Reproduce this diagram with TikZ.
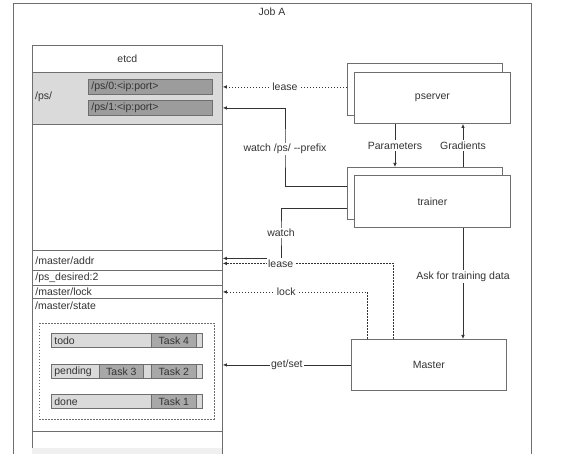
\documentclass[tikz,border=0pt]{standalone}
\usepackage{fontspec}
\setmainfont{Liberation Sans}
\usetikzlibrary{calc,arrows.meta}
\definecolor{frame}{HTML}{6E6E6E}
\definecolor{ink}{HTML}{333333}
\definecolor{keyfill}{HTML}{DADADA}
\definecolor{valfill}{HTML}{9C9C9C}
\definecolor{taskfill}{HTML}{A8A8A8}
\tikzset{
  row/.style={draw=frame, fill=white, line width=0.8pt, anchor=north west, minimum width=190pt, text width=184pt, inner xsep=3pt, inner ysep=0pt, align=left},
  entry/.style={draw=frame, fill=valfill, line width=0.8pt, anchor=north west, minimum width=124pt, minimum height=15pt, text width=118pt, inner xsep=3pt, inner ysep=0pt, align=left},
  bar/.style={draw=frame, fill=keyfill, line width=0.8pt, anchor=north west, minimum width=151pt, minimum height=14pt, text width=145pt, inner xsep=3pt, inner ysep=0pt, align=left},
  taskbox/.style={draw=frame, fill=taskfill, line width=0.8pt, anchor=north west, minimum width=45pt, minimum height=14pt, inner sep=0pt},
  box/.style={draw=frame, fill=white, line width=0.9pt, anchor=north west, minimum width=155pt, minimum height=52pt, inner sep=0pt},
  lbl/.style={fill=white, inner sep=1.5pt},
  arr/.style={draw=ink, line width=0.7pt, -{Latex[length=4pt,width=3.5pt]}},
  dots/.style={draw=frame, dash pattern=on 1.5pt off 1.5pt}
}
\begin{document}
\begin{tikzpicture}[x=1pt, y=-1pt, font=\fontsize{10.5}{12}\selectfont, text=ink]
  %%%%% FRAME %%%%%
  \useasboundingbox (0,0) rectangle (566,454);
  \draw[frame, line width=0.8pt] (13,454) -- (13,3) -- (531,3) -- (531,454);
  \node (joba) at (272,12) {Job A};

  %%%%% ETCD %%%%%
  \draw[frame, line width=0.8pt] (32,454) -- (32,45) -- (222,45) -- (222,454);
  \node[row, minimum height=27pt, align=center] (etcd) at (32,45) {etcd};
  \node[row, fill=keyfill, minimum height=52pt] (ps) at (32,72) {};
  \node[anchor=west, inner sep=0pt] (pskey) at (35,97) {/ps/};
  \node[entry] (ps0) at (88,79) {/ps/0:<ip:port>};
  \node[entry] (ps1) at (88,100) {/ps/1:<ip:port>};

  \node[row, minimum height=20pt] (addr) at (32,250) {/master/addr};
  \node[row, minimum height=15pt] (desired) at (32,270) {/ps\_desired:2};
  \node[row, minimum height=13pt] (lock) at (32,285) {/master/lock};
  \node[row, minimum height=133pt] (state) at (32,298) {};
  \node[anchor=north west, inner sep=0pt] (statekey) at (35,302) {/master/state};
  \fill[black!6] (32.4,448) rectangle (221.6,454);

  % task queues
  \draw[dots, line width=0.8pt] (39,323) rectangle (214,419);
  \node[bar] (todo) at (51,333) {todo};
  \node[taskbox] (task4) at (151,333) {Task 4};
  \node[bar] (pending) at (51,364) {pending};
  \node[taskbox, minimum width=44pt] (task3) at (99,364) {Task 3};
  \node[taskbox] (task2) at (151,364) {Task 2};
  \node[bar] (done) at (51,394) {done};
  \node[taskbox] (task1) at (151,394) {Task 1};

  %%%%% JOBS %%%%%
  \node[box] (psback) at (347,63) {};
  \node[box, minimum width=156pt, minimum height=51pt] (pserver) at (354,72) {pserver};
  \node[box] (trback) at (347,167) {};
  \node[box, minimum width=156pt] (trainer) at (354,175) {trainer};
  \node[box, minimum height=51pt] (master) at (351,339) {Master};

  \coordinate (prm) at (395,145);
  \coordinate (grd) at (463,145);
  \coordinate (wps) at (285,149);
  \coordinate (wat) at (281,233);
  \coordinate (addrin) at ($(addr.east)+(0,-2)$);
  \coordinate (leasein) at ($(addr.east)+(0,3)$);

  %%%%% ARROWS %%%%%
  \draw[dots, arr] (psback.west |- ps0) -- (ps.east |- ps0) node[lbl, midway] (pslease) {lease};
  \draw[arr] ($(trback.north west)+(0,19)$) -| (wps) |- (ps.east |- ps1);
  \node[lbl] (wpslbl) at (wps) {watch /ps/ -{}-prefix};
  \draw[arr] ($(trback.north west)+(0,41)$) -| (wat) |- (addrin);
  \node[lbl] (watlbl) at (wat) {watch};
  \draw[dots, arr] ($(master.north west)+(42,0)$) |- (leasein) node[lbl, pos=0.83] (mlease) {lease};
  \draw[dots, arr] ($(master.north west)+(16,0)$) |- (lock.east) node[lbl, pos=0.78] (mlock) {lock};
  \draw[arr] (master.west) -- (state.east |- master.west) node[lbl, midway] (getset) {get/set};

  \draw[arr] (pserver.south -| prm) -- (trback.north -| prm) node[lbl, midway] (params) {Parameters};
  \draw[arr] (trback.north -| grd) -- (pserver.south -| grd) node[lbl, midway] (grads) {Gradients};
  \draw[arr] (trainer.south -| grd) -- (master.north -| grd) node[lbl, pos=0.44] (ask) {Ask for training data};
\end{tikzpicture}
\end{document}
